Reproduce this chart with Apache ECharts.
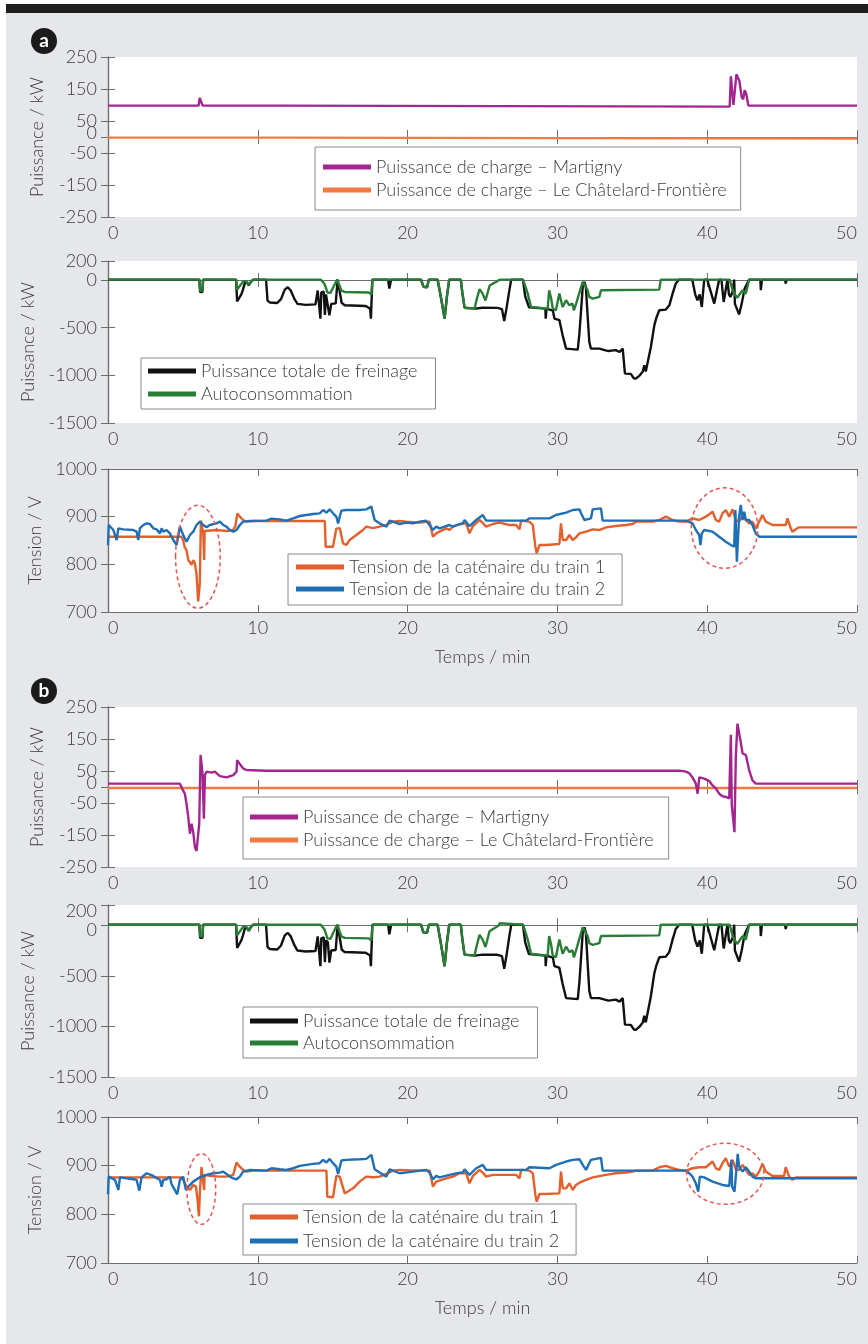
<!DOCTYPE html>
<html><head><meta charset="utf-8">
<script src="https://cdn.jsdelivr.net/npm/echarts@6/dist/echarts.min.js"></script>
<style>
html,body{margin:0;padding:0;background:#fff;width:868px;height:1344px;overflow:hidden;}
#bar{position:absolute;left:6px;top:4px;width:862px;height:9px;background:#1d1d1d;}
#bg{position:absolute;left:6px;top:13px;width:862px;height:1331px;background:#e6e7ea;}
#chart{position:absolute;left:0;top:0;width:868px;height:1344px;}
</style></head><body>
<div id="bar"></div><div id="bg"></div><div id="chart"></div>
<script>
// ---------- tick labels ----------
const xTicks = [0, 10, 20, 30, 40, 50];
const yPowTicks = [250, 150, 50, 0, -50, -150, -250];
const yBrakeTicks = [200, 0, -500, -1000, -1500];
const yVoltTicks = [1000, 900, 800, 700];

// ---------- series names ----------
const nMart = 'Puissance de charge – Martigny';
const nChat = 'Puissance de charge – Le Châtelard-Frontière';
const nBrake = 'Puissance totale de freinage';
const nAuto = 'Autoconsommation';
const nT1 = 'Tension de la caténaire du train 1';
const nT2 = 'Tension de la caténaire du train 2';

// ---------- data [time min, value] ----------
const a1Mart = [[0,98],[6.05,98],[6.12,122],[6.25,124],[6.32,98],[11.4,98],[11.45,95],[41.5,95],[41.58,190],[41.68,192],[41.75,100],[41.82,97],[41.95,196],[42.05,200],[42.15,175],[42.3,125],[42.4,118],[42.5,146],[42.6,136],[42.75,98],[50,98]];
const a1Chat = [[0,-2],[11.4,-2],[11.45,-5],[50,-5]];

const a2Brake = [[0,5],[6.1,5],[6.15,-125],[6.3,-125],[6.35,5],
 [8.55,5],[8.62,-225],[8.75,-215],[8.9,-150],[9.0,-105],[9.15,-25],[9.3,-30],[9.4,-55],[9.55,-15],[9.7,5],
 [10.55,5],[10.65,-215],[10.8,-235],[11.3,-240],[11.55,-200],[11.8,-100],[12.0,-75],[12.2,-110],[12.45,-200],[12.65,-250],[13.2,-260],[13.85,-255],[14.0,-110],[14.12,-110],[14.18,-405],[14.24,-130],[14.4,-120],[14.48,-365],[14.55,-150],[14.68,-170],[14.78,-370],[14.9,-250],[15.2,-245],[15.33,5],[15.45,5],[15.6,-240],[15.8,-265],[17.2,-272],[17.5,-300],[17.55,-405],[17.65,5],
 [18.7,5],[18.78,-90],[18.9,5],
 [20.9,5],[21.05,-70],[21.3,-75],[21.42,5],[22.0,5],[22.2,-160],[22.47,-405],[22.62,-180],[22.78,5],
 [23.55,5],[23.65,-130],[23.8,-290],[24.5,-300],[25.0,-290],[26.0,-292],[26.3,-305],[26.45,-430],[26.6,-300],[26.8,-100],[26.92,5],
 [27.7,5],[27.85,-170],[28.1,-285],[29.2,-300],[29.22,-405],[29.27,-300],[29.7,-320],[29.8,-405],[30.13,-420],[30.35,-580],[30.58,-720],[31.36,-730],[31.47,-560],[31.58,-320],[31.69,-72],[31.8,-20],[31.9,-72],[32.02,-380],[32.13,-650],[32.24,-720],[32.36,-737],[32.8,-720],[33.4,-745],[33.9,-735],[34.15,-755],[34.36,-720],[34.45,-735],[34.51,-982],[34.9,-985],[35.1,-1030],[35.24,-1034],[35.5,-1000],[35.7,-960],[35.8,-894],[35.9,-960],[36.02,-968],[36.24,-702],[36.47,-475],[36.6,-400],[36.8,-317],[37.24,-310],[37.47,-265],[37.69,-142],[37.9,-37],[38.13,5],
 [39.0,5],[39.2,-150],[39.35,-212],[39.5,-150],[39.64,-282],[39.8,5],
 [40.0,5],[40.47,-247],[40.8,5],[40.95,5],[41.1,-230],[41.35,5],[41.45,-150],[41.55,-177],[41.7,-120],[41.8,5],[41.85,-250],[42.13,-360],[42.3,-250],[42.5,-90],[42.8,5],
 [43.55,5],[43.58,-107],[43.65,5],[45.2,5],[45.24,-37],[45.3,5],[50,5]];

const a2Auto = [[0,5],[6.1,5],[6.15,-110],[6.3,-110],[6.35,5],
 [8.55,5],[8.62,-100],[8.75,-110],[9.0,-20],[9.15,-10],[9.3,-25],[9.4,-50],[9.55,-15],[9.7,5],
 [14.2,5],[14.45,-40],[14.65,-130],[14.85,-135],[15.05,-70],[15.3,5],[15.42,5],[15.58,-110],[15.8,-125],[17.4,-130],[17.58,-150],[17.65,5],
 [20.9,5],[21.05,-70],[21.3,-75],[21.42,5],[22.0,5],[22.2,-160],[22.47,-405],[22.62,-180],[22.78,5],
 [23.55,5],[23.65,-130],[23.8,-290],[24.47,-300],[24.6,-210],[24.8,-95],[25.0,-140],[25.2,-215],[25.47,-60],[25.7,-37],[25.9,-20],[26.1,0],[26.15,20],[26.25,5],
 [27.7,5],[27.8,-37],[28.02,-142],[28.24,-282],[28.36,-300],[29.35,-300],[29.45,-107],[29.58,-190],[29.69,-300],[29.9,-317],[30.13,-142],[30.35,-282],[30.58,-212],[30.8,-265],[31.0,-247],[31.1,-317],[31.25,-247],[31.45,-142],[31.69,-20],[31.8,-10],[32.02,-107],[32.13,-177],[32.36,-195],[32.8,-177],[32.91,-107],[36.8,-100],[36.9,5],
 [41.5,5],[41.69,-100],[41.8,-140],[42.0,-185],[42.13,-177],[42.36,-107],[42.58,-142],[42.8,5],[50,5]];

const a3T1 = [[0,858],[4.9,858],[5.02,850],[5.13,835],[5.24,830],[5.36,809],[5.58,799],[5.69,809],[5.8,802],[5.91,780],[6.02,722],[6.13,760],[6.2,892],[6.27,890],[6.36,865],[6.42,809],[6.45,870],[6.58,872],[7.24,872],[7.91,870],[8.36,872],[8.5,880],[8.64,907],[8.8,900],[9.02,893],[9.24,889.5],[9.69,891],[14.47,891],[14.53,837],[15.02,837],[15.24,875],[15.47,876],[15.69,844],[15.91,840.5],[16.13,851],[16.58,861.5],[17.02,872],[17.24,879],[17.69,876],[18.13,879],[18.58,882.5],[19.02,889.5],[19.47,891],[19.91,889.5],[20.8,887.4],[21.47,889.5],[21.69,858],[21.91,865],[22.13,868.5],[22.58,875.5],[22.8,872],[23.02,879],[23.47,884],[23.91,886],[24.13,865],[24.36,880],[24.8,893],[25.02,887],[25.24,879],[25.69,884.6],[26.13,887.4],[26.8,882.5],[27.24,882.5],[27.47,873.4],[27.58,891.6],[28.13,889.5],[28.36,882.5],[28.53,837],[28.62,823],[28.8,840.5],[29.24,840.5],[30.13,842.6],[30.24,886],[30.36,851],[30.58,851],[30.8,861.5],[31.02,851],[31.24,856.6],[31.47,865],[31.91,868.5],[32.36,873.4],[32.8,872],[33.24,877.6],[33.91,880.4],[34.58,882.5],[35.02,884.6],[35.24,889.5],[36.36,889.5],[36.8,893],[37.24,900],[37.69,893],[38.13,889.5],[38.58,889.5],[39.02,896.5],[39.47,893],[39.91,900],[40.36,910.5],[40.58,893],[40.8,889.5],[41.02,907],[41.24,914],[41.47,900],[41.69,915.4],[41.91,893],[42.13,889.5],[42.36,903.5],[42.58,893],[42.8,886],[43.02,889.5],[43.24,875.5],[43.47,889.5],[43.69,903.5],[43.91,889.5],[44.36,882.5],[45.24,882.5],[45.36,896.5],[45.58,875.5],[45.69,868.5],[45.91,873.4],[46.13,877.6],[50,877.6]];

const a3T2 = [[0,840],[0.05,882.5],[0.13,879],[0.36,872],[0.58,851],[0.69,875.5],[1.02,873.4],[1.69,872],[1.91,868.5],[2.02,851],[2.13,875.5],[2.36,882.5],[2.58,886],[2.8,884.6],[3.02,875.5],[3.24,873.4],[3.47,865],[3.58,875.5],[3.69,868.5],[3.91,872],[4.13,865],[4.36,851],[4.58,840.5],[4.8,879],[4.91,882.5],[5.02,861.5],[5.24,847.5],[5.47,861.5],[5.69,868.5],[5.91,882.5],[6.13,889.5],[6.36,882.5],[6.58,877.6],[6.8,882.5],[7.24,886],[7.47,889.5],[7.69,882.5],[7.91,879],[8.13,872],[8.36,868.5],[8.58,872],[8.8,882.5],[9.02,889.5],[9.47,890.9],[10.58,891.6],[10.91,895.8],[11.47,894.4],[11.91,891.6],[12.36,896.5],[12.8,901.4],[13.24,903.5],[13.69,905.6],[14.13,907],[14.36,914],[14.58,908.4],[14.8,915.4],[15.02,907],[15.24,900],[15.36,886],[15.47,900],[15.58,912.6],[15.91,914],[16.8,914],[17.24,915.4],[17.58,921],[17.69,917.5],[17.8,893],[17.91,889.5],[18.13,886],[18.36,882.5],[18.58,879],[18.8,891.6],[19.02,889.5],[19.47,884.6],[19.91,887.4],[20.36,886],[20.8,889.5],[21.24,891.6],[21.47,882.5],[21.69,872],[21.91,879],[22.13,875.5],[22.58,880.4],[22.8,882.5],[23.02,879],[23.47,884.6],[23.69,886],[23.8,893],[24.13,880],[24.58,893],[25.02,903.5],[25.24,891.6],[27.91,891.6],[28.13,896.5],[29.47,896.5],[29.91,903.5],[30.58,908.4],[31.02,914],[31.47,915.4],[31.58,907],[31.8,893],[32.24,896.5],[32.36,915.4],[32.91,917.5],[33.02,891.6],[38.58,891.6],[39.02,886],[39.24,872],[39.47,861.5],[39.55,840.5],[39.64,865],[39.8,872],[40.36,868.5],[41.24,847.5],[41.58,840.5],[41.8,837],[41.88,914],[41.98,805.5],[42.04,805.5],[42.13,900],[42.24,924.5],[42.36,893],[42.47,910.5],[42.58,893],[42.8,893],[43.02,882.5],[43.24,865],[43.47,858],[50,858]];

const b1Mart = [[0,10.5],[4.8,10.5],[4.91,5],[5.0,-10],[5.13,-21],[5.24,-52],[5.36,-94],[5.47,-146],[5.58,-115],[5.69,-141],[5.8,-188],[5.91,-200],[6.02,-198],[6.09,-115],[6.18,100],[6.27,100],[6.31,43],[6.4,-99],[6.47,37],[6.58,48],[6.91,45],[7.13,48],[7.47,34],[7.91,30],[8.36,37],[8.58,48],[8.62,84],[8.8,72],[9.02,58],[9.24,53],[10.58,51],[38.13,51],[38.58,48],[38.8,43],[39.02,30],[39.24,10.5],[39.36,-21],[39.47,30],[39.8,26],[40.13,19],[40.36,5],[40.58,-5],[40.8,-21],[41.02,-29],[41.24,-31],[41.47,-36],[41.55,-36],[41.58,163],[41.64,-57],[41.73,-57],[41.82,-141],[41.91,94],[42.02,198],[42.13,200],[42.24,140],[42.36,105],[42.47,110],[42.58,100],[42.8,53],[43.02,21],[43.24,10.5],[50,10.5]];
const b1Chat = [[0,-3],[50,-3]];

const b2Brake = a2Brake;   // same braking record in both scenarios
const b2Auto = a2Auto;

const b3T1 = [[0,876],[4.91,876],[5.02,870.7],[5.24,856.9],[5.47,850],[5.69,860.3],[5.87,856.9],[5.98,829],[6.07,796],[6.13,843],[6.24,897],[6.31,895],[6.42,850],[6.45,881],[6.8,879],[7.47,877.5],[7.91,877.5],[8.36,881],[8.58,906.5],[8.8,898],[9.02,891.3],[9.24,887.8],[9.69,889.9],[14.58,889.9],[14.64,836],[15.02,835],[15.24,879],[15.47,877.5],[15.8,843],[15.91,842],[16.36,853.4],[16.8,867.2],[17.24,877.5],[17.69,876.1],[18.13,877.5],[18.58,883],[19.02,889.9],[19.47,891.3],[20.8,889.9],[21.47,889.9],[21.69,857],[21.91,867.2],[22.58,874.1],[23.02,877.5],[23.47,884.4],[23.91,884.4],[24.13,863.8],[24.36,879],[24.8,891.3],[25.02,885.8],[25.24,877.5],[25.69,881],[27.24,881],[27.47,874],[27.58,891.3],[28.13,889.9],[28.36,884.4],[28.53,839.7],[28.62,826],[28.8,841.8],[29.24,841.8],[30.13,843],[30.24,887.8],[30.36,853.4],[30.58,853.4],[30.8,863.8],[31.02,850],[31.24,860.3],[31.47,865],[31.91,870.7],[32.36,876],[33.24,881],[33.91,884.4],[34.58,885.8],[35.02,887.8],[35.24,889.9],[36.36,889.9],[36.8,896.8],[37.24,899.5],[37.69,894.7],[38.13,891.3],[38.58,889.9],[39.02,894.7],[39.47,896.8],[39.91,896.8],[40.36,908.5],[40.58,894.7],[40.8,891.3],[41.02,905],[41.24,915.4],[41.47,898],[41.69,912],[41.91,892.6],[42.13,891.3],[42.36,901.6],[42.58,891.3],[42.8,881],[43.02,884.4],[43.24,877.5],[43.47,887.8],[43.69,903.7],[43.91,887.8],[44.36,878.9],[45.13,878.9],[45.24,896.8],[45.47,877.5],[45.69,870.7],[45.91,876],[50,876]];

const b3T2 = [[0,841],[0.05,877.5],[0.13,877.5],[0.47,870.7],[0.69,850],[0.8,876],[1.24,874],[1.69,872],[1.91,870.7],[2.09,848.7],[2.24,876],[2.58,884.4],[3.02,878.9],[3.47,870.7],[3.58,856.9],[3.69,870.7],[3.91,872],[4.13,877.5],[4.24,862.4],[4.4,853.4],[4.62,841],[4.8,870.7],[5.02,877.5],[5.2,850],[5.36,856.9],[5.69,867.2],[6.13,876],[6.58,881],[7.02,884.4],[7.47,885.8],[7.69,887.8],[7.91,883],[8.13,877.5],[8.36,874],[8.58,872],[8.8,877.5],[9.02,887.8],[9.47,891.3],[10.58,889.9],[10.91,894.7],[11.47,892.6],[11.91,891.3],[12.36,894.7],[12.8,899.5],[13.24,901.6],[13.69,903.7],[14.13,905.1],[14.36,912],[14.58,906.5],[14.8,914],[15.02,905.1],[15.24,898.1],[15.36,883],[15.47,896.8],[15.58,910.6],[15.91,912],[16.8,913.3],[17.24,914],[17.58,922.2],[17.8,892.6],[18.13,885.8],[18.58,877.5],[18.8,892.6],[19.02,889.9],[19.47,884.4],[20.36,887.8],[20.8,889.9],[21.24,891.3],[21.47,885.8],[21.69,872],[21.91,878.9],[22.13,876.1],[22.8,881],[23.47,885.8],[23.69,885.8],[23.8,892.6],[24.13,881],[24.58,894.7],[25.02,901.6],[25.24,891.3],[27.91,891.3],[28.13,896.8],[29.47,894.7],[29.91,901.6],[30.58,908.5],[31.02,912],[31.47,913.3],[31.69,901.6],[31.91,891.3],[32.24,912],[32.36,915.4],[32.91,916],[33.02,889.9],[38.58,889.9],[38.8,884.4],[39.02,877.5],[39.24,863.8],[39.4,846.6],[39.51,877.5],[39.8,876],[40.36,867.2],[41.02,860.3],[41.47,858.3],[41.58,858],[41.62,912],[41.66,857],[41.82,846.6],[41.91,877.5],[42.04,924.3],[42.13,898],[42.36,887.8],[42.58,896.8],[42.8,887.8],[43.02,877.5],[43.24,874.1],[50,874.1]];

// dashed ellipse annotations (data coords): grid, center t, center v, half-width (min), half-height (V)
const ellipseNotes = [[2, 6.0, 816, 1.49, 108], [2, 41.16, 876, 2.22, 84.5], [5, 6.23, 852, 0.96, 72.6], [5, 41.2, 883.4, 2.58, 62.9]];

// ---------- styles ----------
const FONT = 'Lato';
const TXT = '#3a3a3a';
const AX = '#6e6e6e';
const cMart = '#a3268f', cChat = '#f47a43', cBrake = '#111111', cAuto = '#2a7d37', cT1 = '#e2602c', cT2 = '#1f6fb6';

const layout = [
  {top: 57, height: 160, min: -250, max: 250, ticks: yPowTicks, yName: 'Puissance / kW', shift: {0: -4},
   series: [[nChat, a1Chat, cChat], [nMart, a1Mart, cMart]],
   legend: {names: [nMart, nChat], left: 315, top: 147, pad: [11, 14, 11, 8], gap: 5}},
  {top: 261, height: 162, min: -1500, max: 200, ticks: yBrakeTicks, yName: 'Puissance / kW', shift: {},
   series: [[nBrake, a2Brake, cBrake], [nAuto, a2Auto, cAuto]],
   legend: {names: [nBrake, nAuto], left: 141, top: 358, pad: [4, 18, 6, 7], gap: 5}},
  {top: 469, height: 143, min: 700, max: 1000, ticks: yVoltTicks, yName: 'Tension / V', xName: 'Temps / min', shift: {},
   series: [[nT1, a3T1, cT1], [nT2, a3T2, cT2]],
   legend: {names: [nT1, nT2], left: 288, top: 554, pad: [4, 17, 7, 8], gap: 4}},
  {top: 707, height: 160, min: -250, max: 250, ticks: yPowTicks, yName: 'Puissance / kW', shift: {0: -4},
   series: [[nChat, b1Chat, cChat], [nMart, b1Mart, cMart]],
   legend: {names: [nMart, nChat], left: 243, top: 797, pad: [11, 15, 10, 7], gap: 5}},
  {top: 905, height: 172, min: -1500, max: 200, ticks: yBrakeTicks, yName: 'Puissance / kW', shift: {200: 6, 0: 5},
   series: [[nBrake, b2Brake, cBrake], [nAuto, b2Auto, cAuto]],
   legend: {names: [nBrake, nAuto], left: 243, top: 1007, pad: [5, 18, 6, 7], gap: 4}},
  {top: 1117, height: 146, min: 700, max: 1000, ticks: yVoltTicks, yName: 'Tension / V', xName: 'Temps / min', shift: {},
   series: [[nT1, b3T1, cT1], [nT2, b3T2, cT2]],
   legend: {names: [nT1, nT2], left: 243, top: 1204, pad: [4, 17, 5, 7], gap: 6}}
];

const grid = [], xAxis = [], yAxis = [], series = [], legend = [];
const labelStyle = {color: TXT, fontSize: 18, fontFamily: FONT, fontWeight: 300};
const nameStyle = {color: TXT, fontSize: 18, fontFamily: FONT, fontWeight: 300};
const rich = {
  up: Object.assign({padding: [0, 0, 8, 0]}, labelStyle),
  dn5: Object.assign({padding: [10, 0, 0, 0]}, labelStyle),
  dn6: Object.assign({padding: [12, 0, 0, 0]}, labelStyle)
};
layout.forEach((p, i) => {
  grid.push({left: 108, right: 11, top: p.top, height: p.height, show: true, backgroundColor: '#fff', borderWidth: 0});
  const axLine = {show: true, lineStyle: {color: AX, width: 1.2}};
  xAxis.push({type: 'value', gridIndex: i, min: 0, max: 50, interval: 10, position: 'bottom',
    axisLine: axLine, splitLine: {show: false},
    axisTick: {inside: true, length: 7, lineStyle: {color: AX}},
    axisLabel: Object.assign({margin: 7, alignMinLabel: 'left', alignMaxLabel: 'right', formatter: v => String(v)}, labelStyle),
    name: p.xName || '', nameLocation: 'middle', nameGap: 36, nameTextStyle: nameStyle});
  xAxis.push({type: 'value', gridIndex: i, min: 0, max: 50, interval: 10, position: 'top',
    axisLine: axLine, splitLine: {show: false},
    axisTick: {inside: true, length: 7, lineStyle: {color: AX}}, axisLabel: {show: false}});
  const sh = p.shift;
  yAxis.push({type: 'value', gridIndex: i, min: p.min, max: p.max, position: 'left',
    axisLine: axLine, splitLine: {show: false},
    axisTick: {inside: true, length: 7, customValues: p.ticks, lineStyle: {color: AX}},
    axisLabel: Object.assign({margin: 11, customValues: p.ticks, rich: rich,
      formatter: v => {
        const s = sh[v];
        if (s === undefined) return String(v);
        const key = s < 0 ? 'up' : (s >= 6 ? 'dn6' : 'dn5');
        return '{' + key + '|' + v + '}';
      }}, labelStyle),
    name: p.yName, nameLocation: 'middle', nameGap: 62, nameTextStyle: nameStyle});
  yAxis.push({type: 'value', gridIndex: i, min: p.min, max: p.max, position: 'right',
    axisLine: axLine, splitLine: {show: false},
    axisTick: {inside: true, length: 7, customValues: p.ticks, lineStyle: {color: AX}},
    axisLabel: {show: false}});
  p.series.forEach(s => {
    series.push({type: 'line', name: s[0], data: s[1], xAxisIndex: 2 * i, yAxisIndex: 2 * i,
      showSymbol: false, symbol: 'none', color: s[2], lineStyle: {color: s[2], width: 2.4},
      emphasis: {disabled: true}, silent: true, clip: true});
  });
  const L = p.legend;
  legend.push({data: L.names, orient: 'vertical', left: L.left, top: L.top, padding: L.pad, itemGap: L.gap,
    itemWidth: 48, itemHeight: 5, icon: 'rect', backgroundColor: '#fff', borderColor: '#8a8a8a', borderWidth: 1,
    borderRadius: 0, selectedMode: false,
    textStyle: {color: TXT, fontSize: 18, lineHeight: 18, fontFamily: FONT, fontWeight: 300}});
});

const chart = echarts.init(document.getElementById('chart'), null, {renderer: 'canvas'});
chart.setOption({animation: false, backgroundColor: 'transparent', grid, xAxis, yAxis, series, legend});

// panel letters + dashed ellipses
const graphics = [];
[[44, 41, 'a'], [44, 691, 'b']].forEach(([cx, cy, t]) => {
  graphics.push({type: 'circle', shape: {cx, cy, r: 13}, style: {fill: '#1b1b1b'}, z: 50});
  graphics.push({type: 'text', x: cx, y: cy, style: {text: t, fill: '#fff', font: 'bold 19px Lato', align: 'center', verticalAlign: 'middle'}, z: 51});
});
ellipseNotes.forEach(([g, t, v, dt, dv]) => {
  const c = chart.convertToPixel({xAxisIndex: 2 * g, yAxisIndex: 2 * g}, [t, v]);
  const e = chart.convertToPixel({xAxisIndex: 2 * g, yAxisIndex: 2 * g}, [t + dt, v + dv]);
  graphics.push({type: 'ellipse', shape: {cx: c[0], cy: c[1], rx: e[0] - c[0], ry: c[1] - e[1]},
    style: {fill: null, stroke: '#e6544e', lineWidth: 1.5, lineDash: [4, 3]}, z: 60});
});
chart.setOption({graphic: graphics});
</script>
</body></html>
